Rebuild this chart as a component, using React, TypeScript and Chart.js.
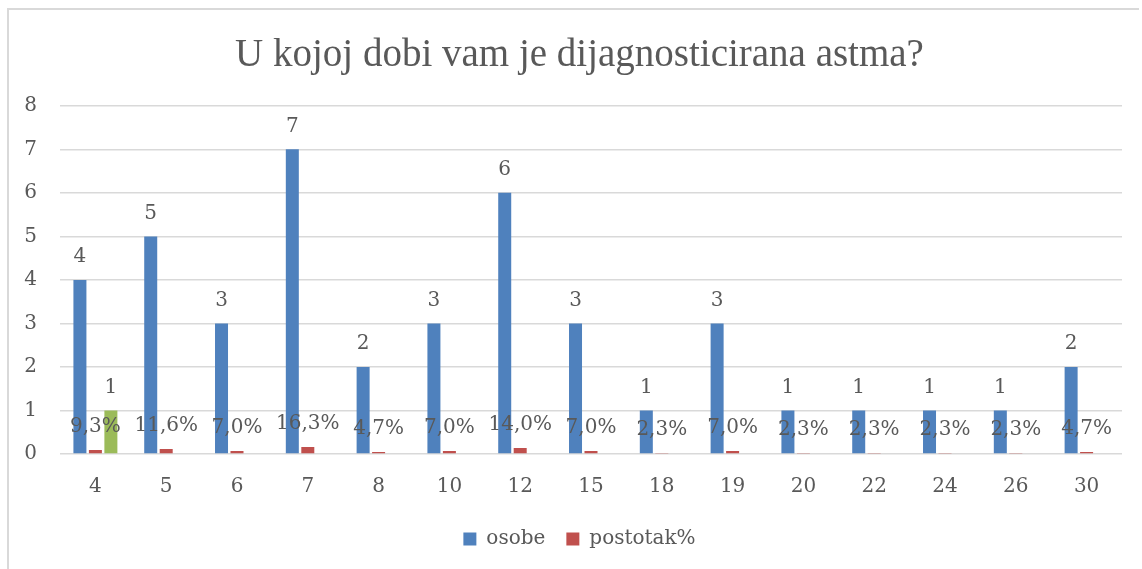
import React, { useEffect, useRef } from "react";
import { Chart, registerables } from "chart.js";

Chart.register(...registerables);

const categories = ["4", "5", "6", "7", "8", "10", "12", "15", "18", "19", "20", "22", "24", "26", "30"];
const osobe = [4, 5, 3, 7, 2, 3, 6, 3, 1, 3, 1, 1, 1, 1, 2];
const postotak = [0.093, 0.116, 0.07, 0.163, 0.047, 0.07, 0.14, 0.07, 0.023, 0.07, 0.023, 0.023, 0.023, 0.023, 0.047];
const treca = [1, null, null, null, null, null, null, null, null, null, null, null, null, null, null];
const yTicks = [0, 1, 2, 3, 4, 5, 6, 7, 8];

const TITLE_FONT = "'Liberation Serif', 'Times New Roman', serif";
const FONT = "'DejaVu Serif', serif";
const TEXT = "#595959";

const labelPlugin = {
  id: "barLabels",
  afterDatasetsDraw(chart: any) {
    const ctx = chart.ctx;
    ctx.save();
    ctx.font = `20px ${FONT}`;
    ctx.fillStyle = TEXT;
    ctx.textAlign = "center";
    ctx.textBaseline = "middle";
    chart.data.datasets.forEach((ds: any, di: number) => {
      const meta = chart.getDatasetMeta(di);
      meta.data.forEach((el: any, i: number) => {
        const v = ds.data[i];
        if (v === null || v === undefined) return;
        const txt = di === 1 ? (v * 100).toFixed(1).replace(".", ",") + "%" : String(v);
        ctx.fillText(txt, el.x, el.y - 23);
      });
    });
    ctx.restore();
  },
};

export default function App() {
  const ref = useRef<HTMLCanvasElement>(null);
  useEffect(() => {
    const chart = new Chart(ref.current as HTMLCanvasElement, {
      type: "bar",
      data: {
        labels: categories,
        datasets: [
          { label: "osobe", data: osobe, backgroundColor: "#4F81BD" },
          { label: "postotak%", data: postotak, backgroundColor: "#C0504D" },
          { label: "", data: treca as any, backgroundColor: "#9BBB59" },
        ],
      },
      options: {
        animation: false,
        responsive: false,
        maintainAspectRatio: false,
        datasets: { bar: { categoryPercentage: 0.656, barPercentage: 0.84 } },
        layout: { padding: { left: 10, right: 11, top: 0, bottom: 10 } },
        scales: {
          x: {
            grid: { display: false },
            border: { display: false },
            ticks: { color: TEXT, font: { family: FONT, size: 20 }, padding: 13 },
            afterFit: (s: any) => { s.height = 54; },
          },
          y: {
            min: 0,
            max: 8,
            afterBuildTicks: (s: any) => { s.ticks = yTicks.map((v) => ({ value: v })); },
            grid: { color: "#D9D9D9", lineWidth: 1.5, drawTicks: false },
            border: { display: false },
            ticks: { color: TEXT, font: { family: FONT, size: 20 }, padding: 23 },
            afterFit: (s: any) => { s.width = 50; },
          },
          y2: {
            type: "linear",
            position: "right",
            min: 0,
            max: 8,
            grid: { display: false, drawTicks: false },
            border: { display: false },
            ticks: { display: false },
            afterFit: (s: any) => { s.width = 27; },
          },
        },
        plugins: {
          title: {
            display: true,
            text: "U kojoj dobi vam je dijagnosticirana astma?",
            color: TEXT,
            font: { family: TITLE_FONT, size: 39, weight: "normal" },
            padding: { top: 32, bottom: 27 },
          },
          legend: {
            position: "bottom",
            labels: {
              color: TEXT,
              font: { family: FONT, size: 20 },
              boxWidth: 13,
              boxHeight: 13,
              padding: 21,
              filter: (item: any) => item.datasetIndex !== 2,
            },
          },
          tooltip: { enabled: false },
        },
      },
      plugins: [labelPlugin],
    });
    return () => chart.destroy();
  }, []);
  return (
    <div style={{ position: "absolute", left: 0, top: 0, width: 1142, height: 569, background: "#fff", overflow: "hidden" }}>
      <div style={{ position: "absolute", left: 7, top: 8, width: 1130, height: 560, borderLeft: "2px solid #D9D9D9", borderTop: "2px solid #D9D9D9" }} />
      <canvas ref={ref} width={1160} height={569} style={{ position: "absolute", left: 0, top: 0, width: 1160, height: 569 }} />
    </div>
  );
}
